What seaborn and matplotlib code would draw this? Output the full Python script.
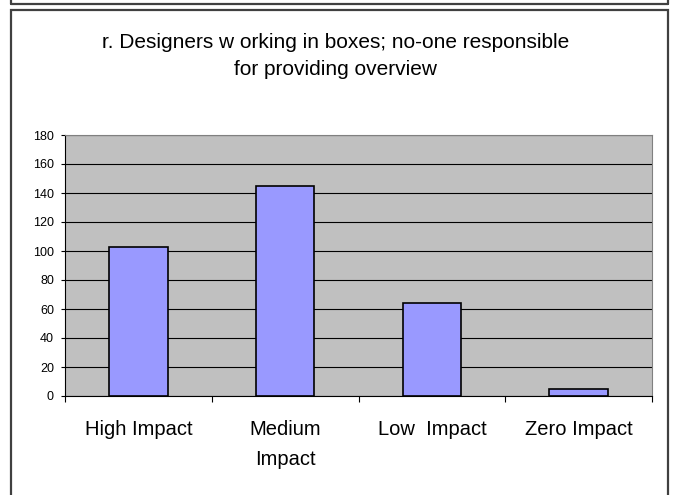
import matplotlib
matplotlib.use("Agg")
import matplotlib.pyplot as plt
import seaborn as sns
import pandas as pd
from matplotlib.patches import Rectangle
from matplotlib.lines import Line2D

categories = ["High Impact", "Medium\nImpact", "Low  Impact", "Zero Impact"]
values = [103, 145, 64, 5]
yticks = [0, 20, 40, 60, 80, 100, 120, 140, 160, 180]
title_lines = ["r. Designers w orking in boxes; no-one responsible",
               "for providing overview"]

sns.set_style("white")
plt.rcParams["font.family"] = ["Liberation Sans", "DejaVu Sans"]
plt.rcParams["text.color"] = "black"
plt.rcParams["xtick.color"] = "black"
plt.rcParams["ytick.color"] = "black"

W, H = 674, 495
fig = plt.figure(figsize=(W / 100, H / 100), dpi=100)

# outer frames
fig.add_artist(Line2D([11 / W, 668 / W], [1 - 4 / H, 1 - 4 / H], color="#404040", lw=1.6))
fig.add_artist(Line2D([11 / W, 11 / W], [1, 1 - 4 / H], color="#404040", lw=1.6))
fig.add_artist(Line2D([668 / W, 668 / W], [1, 1 - 4 / H], color="#404040", lw=1.6))
fig.add_artist(Rectangle((11 / W, -0.05), (668 - 11) / W, 1.05 - 10 / H,
                         transform=fig.transFigure, fill=False,
                         edgecolor="#404040", lw=1.6))

ax = fig.add_axes([65 / W, 1 - 396 / H, (652 - 65) / W, (396 - 135) / H])
df = pd.DataFrame({"cat": categories, "val": values})
sns.barplot(data=df, x="cat", y="val", ax=ax, color="#9999FF", saturation=1,
            width=0.4, edgecolor="black", linewidth=1.2, zorder=3)

ax.set_facecolor("#C0C0C0")
ax.set_ylim(0, 180)
ax.set_xlim(-0.5, len(categories) - 0.5)
ax.set_yticks(yticks)
ax.yaxis.grid(True, color="black", lw=0.8)
ax.set_axisbelow(True)
ax.set_xlabel("")
ax.set_ylabel("")
for s in ["top", "right"]:
    ax.spines[s].set_color("#808080")
    ax.spines[s].set_linewidth(0.8)
for s in ["left", "bottom"]:
    ax.spines[s].set_color("black")
    ax.spines[s].set_linewidth(0.8)

ax.tick_params(axis="y", direction="out", length=3, width=0.8, color="black",
               labelcolor="black", labelsize=9, pad=5, left=True)
ax.set_xticks(range(len(categories)))
ax.set_xticklabels(categories, fontsize=14.5, va="top", linespacing=1.7)
ax.tick_params(axis="x", which="major", length=0, pad=17.5, labelcolor="black")
ax.set_xticks([i - 0.5 for i in range(len(categories) + 1)], minor=True)
ax.tick_params(axis="x", which="minor", direction="out", length=4, width=0.8,
               color="black", bottom=True)

fig.text(336 / W, 1 - 48 / H, title_lines[0], ha="center", va="baseline",
         fontsize=15, color="black")
fig.text(336 / W, 1 - 75 / H, title_lines[1], ha="center", va="baseline",
         fontsize=15, color="black")

fig.savefig("out.png", dpi=100)
